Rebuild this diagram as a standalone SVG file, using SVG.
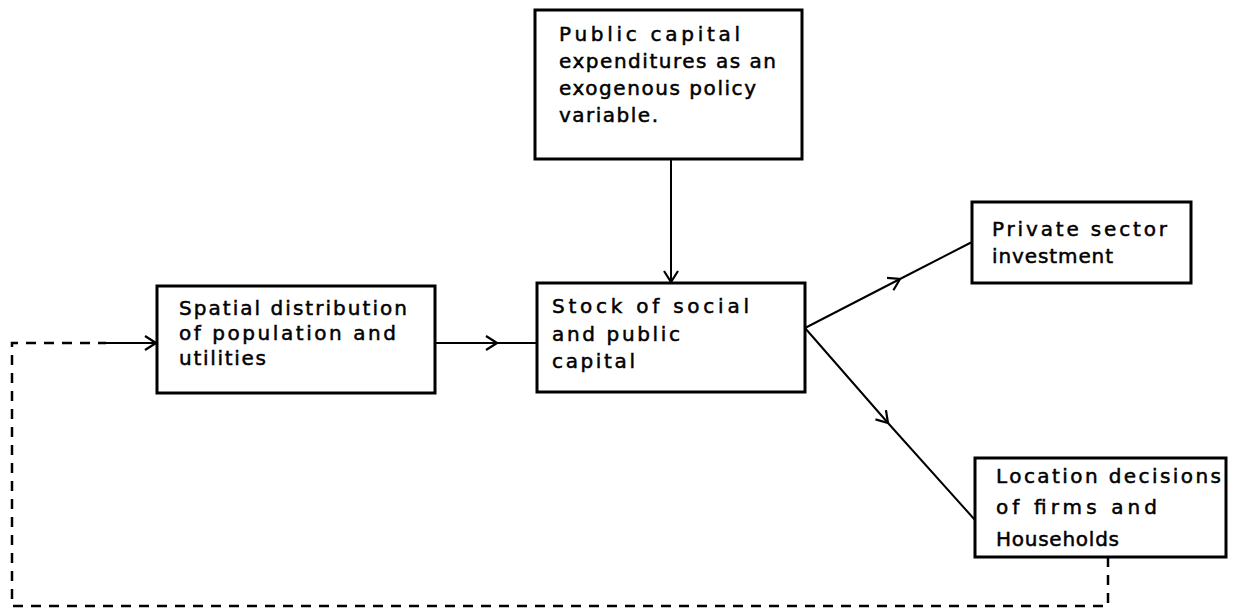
<svg xmlns="http://www.w3.org/2000/svg" width="1233" height="609" viewBox="0 0 1233 609">
<style>
.box{fill:#fff;stroke:#000;stroke-width:3}
.t{font-family:"DejaVu Sans","Liberation Sans",sans-serif;font-size:20px;fill:#000;stroke:#000;stroke-width:0.5}
.c{fill:none;stroke:#000;stroke-width:2}
.d{fill:none;stroke:#000;stroke-width:2.5;stroke-dasharray:10 8}
</style>
<defs>
<marker id="ah" viewBox="0 0 13 16" refX="12" refY="8" markerWidth="13" markerHeight="16" markerUnits="userSpaceOnUse" orient="auto">
<path d="M1,1 L12,8 L1,15" fill="none" stroke="#000" stroke-width="2.2"/>
</marker>
</defs>
<rect width="1233" height="609" fill="#fff"/>
<g id="connectors">
<polyline class="c" points="671,159 671,282" marker-end="url(#ah)"/>
<polyline class="c" points="435,343 497,343 537,343" marker-mid="url(#ah)"/>
<polyline class="c" points="805,328 900,279 972,242" marker-mid="url(#ah)"/>
<polyline class="c" points="805,328 888,423 975,520" marker-mid="url(#ah)"/>
<polyline class="d" points="1108,557 1108,606 12,606 12,343 106,343"/>
<line class="c" x1="106" y1="343" x2="156" y2="343" marker-end="url(#ah)"/>
</g>
<g id="n_public">
<rect class="box" x="535" y="10" width="267" height="149"/>
<text class="t" x="559" y="41" textLength="181" lengthAdjust="spacing">Public  capital</text>
<text class="t" x="559" y="68" textLength="217" lengthAdjust="spacing">expenditures as an</text>
<text class="t" x="559" y="95" textLength="197" lengthAdjust="spacing">exogenous  policy</text>
<text class="t" x="559" y="122" textLength="99" lengthAdjust="spacing">variable.</text>
</g>
<g id="n_spatial">
<rect class="box" x="157" y="286" width="278" height="107"/>
<text class="t" x="179" y="315" textLength="228" lengthAdjust="spacing">Spatial  distribution</text>
<text class="t" x="179" y="340" textLength="217" lengthAdjust="spacing">of  population and</text>
<text class="t" x="179" y="365" textLength="87" lengthAdjust="spacing">utilities</text>
</g>
<g id="n_stock">
<rect class="box" x="537" y="283" width="268" height="109"/>
<text class="t" x="552" y="313" textLength="197" lengthAdjust="spacing">Stock   of social</text>
<text class="t" x="552" y="341" textLength="128" lengthAdjust="spacing">and  public</text>
<text class="t" x="552" y="368" textLength="83" lengthAdjust="spacing">capital</text>
</g>
<g id="n_private">
<rect class="box" x="972" y="202" width="219" height="81"/>
<text class="t" x="992" y="236" textLength="175" lengthAdjust="spacing">Private   sector</text>
<text class="t" x="992" y="263" textLength="121" lengthAdjust="spacing">investment</text>
</g>
<g id="n_location">
<rect class="box" x="975" y="458" width="251" height="99"/>
<text class="t" x="996" y="483" textLength="225" lengthAdjust="spacing">Location  decisions</text>
<text class="t" x="996" y="514" textLength="161" lengthAdjust="spacing">of  firms  and</text>
<text class="t" x="996" y="546" textLength="123" lengthAdjust="spacing">Households</text>
</g>
</svg>
